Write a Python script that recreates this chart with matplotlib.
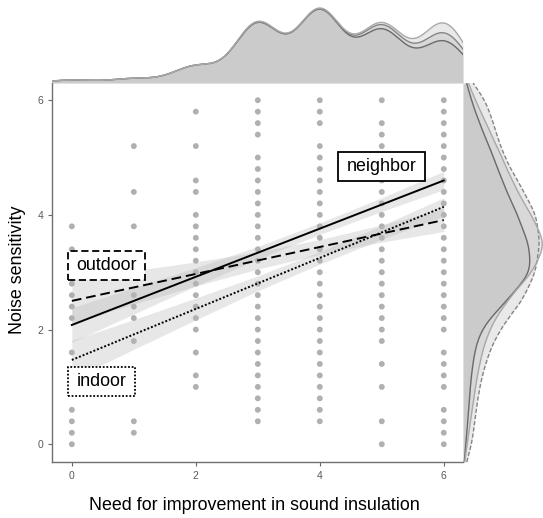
import numpy as np
import matplotlib
matplotlib.use("Agg")
import matplotlib.pyplot as plt
from matplotlib.patches import Rectangle

plt.rcParams['font.family'] = ['Liberation Sans', 'DejaVu Sans']

# ---------------- data ----------------
x_levels = [0, 1, 2, 3, 4, 5, 6]
col0_y = [3.8, 3.4, 3.2, 3.0, 2.8, 2.6, 2.4, 2.2, 1.6, 1.2, 0.6, 0.4, 0.2, 0.0]
col1_y = [5.2, 4.4, 3.8, 3.0, 2.6, 2.4, 2.2, 1.8, 0.4, 0.2]
col2_y = [5.8, 5.2, 4.6, 4.4, 4.0, 3.8, 3.6, 3.4, 3.2, 3.0, 2.8, 2.6, 2.4, 2.2,
          2.0, 1.6, 1.2, 1.0]
col3_y = [6.0, 5.8, 5.6, 5.4, 5.0, 4.8, 4.6, 4.4, 4.2, 4.0, 3.8, 3.6, 3.4, 3.2,
          3.0, 2.8, 2.6, 2.4, 2.2, 2.0, 1.8, 1.6, 1.4, 1.2, 1.0, 0.8, 0.6, 0.4]
col4_y = [6.0, 5.8, 5.6, 5.2, 5.0, 4.8, 4.6, 4.4, 4.2, 4.0, 3.8, 3.6, 3.4, 3.2,
          3.0, 2.8, 2.6, 2.4, 2.2, 2.0, 1.8, 1.6, 1.4, 1.2, 1.0, 0.8, 0.6, 0.4]
col5_y = [6.0, 5.6, 5.4, 5.2, 5.0, 4.8, 4.6, 4.4, 4.2, 4.0, 3.8, 3.6, 3.4, 3.2,
          3.0, 2.8, 2.6, 2.4, 2.2, 2.0, 1.8, 1.4, 1.0, 0.4, 0.0]
col6_y = [6.0, 5.8, 5.6, 5.4, 5.2, 5.0, 4.8, 4.6, 4.4, 4.2, 4.0, 3.8, 3.6, 3.4,
          3.2, 3.0, 2.8, 2.6, 2.4, 2.2, 2.0, 1.6, 1.4, 1.2, 1.0, 0.6, 0.4, 0.2, 0.0]
columns_y = [col0_y, col1_y, col2_y, col3_y, col4_y, col5_y, col6_y]

groups = ['neighbor', 'outdoor', 'indoor']
fit_at_0 = [2.08, 2.50, 1.47]      # fitted value at x = 0
fit_at_6 = [4.60, 3.91, 4.14]      # fitted value at x = 6
ci_halfwidth = {
    'neighbor': [0.30, 0.23, 0.16, 0.11, 0.10, 0.12, 0.16],
    'outdoor':  [0.38, 0.29, 0.21, 0.15, 0.13, 0.15, 0.20],
    'indoor':   [0.34, 0.26, 0.19, 0.13, 0.11, 0.12, 0.16],
}
line_styles = ['-', (0, (5, 2.5)), (0, (1, 1))]
box_styles = ['-', (0, (4, 2)), (0, (1, 1))]
label_pos_x = [5.0, 0.56, 0.48]
label_pos_y = [4.85, 3.11, 1.10]

# marginal density weights (x marginal, at x_levels)
xdens_weights = {
    'neighbor': [3, 4.5, 17, 60, 73, 53, 42],
    'outdoor':  [3, 4.5, 17, 60, 73, 57, 50],
    'indoor':   [3, 4.5, 17, 61, 74, 59, 60],
}
# marginal density weights (y marginal, at y_levels)
y_levels = [0, 0.5, 1, 1.5, 2, 2.5, 3, 3.5, 4, 4.5, 5, 5.5, 6]
ydens_weights = {
    'neighbor': [3, 5, 7, 10, 16, 42, 68, 64, 53, 40, 30, 18, 8],
    'outdoor':  [9, 12, 16, 23, 35, 58, 71, 75, 72, 56, 40, 31, 23],
    'indoor':   [4, 8, 12, 17, 25, 42, 68, 82, 66, 50, 38, 25, 12],
}
marg_line_color = {'neighbor': '#6a6a6a', 'outdoor': '#858585', 'indoor': '#a8a8a8'}
marg_line_style = {'neighbor': '-', 'outdoor': (0, (3, 1.5)), 'indoor': '-'}

xticks = [0, 2, 4, 6]
yticks = [0, 2, 4, 6]
xlabel = 'Need for improvement in sound insulation'
ylabel = 'Noise sensitivity'

# ---------------- figure ----------------
W, H = 543, 518
fig = plt.figure(figsize=(W / 100, H / 100), dpi=100)

def px_axes(left, top, right, bottom):
    return fig.add_axes([left / W, 1 - bottom / H, (right - left) / W, (bottom - top) / H])

ax = px_axes(52, 83, 463, 462)
ax_top = px_axes(52, 0, 463, 83)
ax_right = px_axes(463, 83, 543, 462)

XLIM = (-0.32, 6.31)
YLIM = (-0.31, 6.30)

# scatter
xs = np.concatenate([[xl] * len(c) for xl, c in zip(x_levels, columns_y)])
ys = np.concatenate(columns_y)
ax.scatter(xs, ys, s=18, color='#a3a3a3', alpha=0.85, edgecolors='none', zorder=2)

# fits + bands
xl = np.array(x_levels, dtype=float)
for i, g in enumerate(groups):
    slope = (fit_at_6[i] - fit_at_0[i]) / 6.0
    yfit = fit_at_0[i] + slope * xl
    hw = np.array(ci_halfwidth[g])
    ax.fill_between(xl, yfit - hw, yfit + hw, color='#b8b8b8', alpha=0.33,
                    linewidth=0, zorder=3)
for i, g in enumerate(groups):
    slope = (fit_at_6[i] - fit_at_0[i]) / 6.0
    yfit = fit_at_0[i] + slope * xl
    ax.plot(xl, yfit, color='black', linestyle=line_styles[i], linewidth=1.4, zorder=4)

ax.set_xlim(*XLIM)
ax.set_ylim(*YLIM)
ax.set_xticks(xticks)
ax.set_yticks(yticks)
ax.tick_params(axis='both', length=3.2, width=0.8, color='#666666', labelcolor='#5a5a5a',
               labelsize=7.5, pad=3)
for s in ['top', 'right']:
    ax.spines[s].set_visible(False)
for s in ['left', 'bottom']:
    ax.spines[s].set_color('#707070')
    ax.spines[s].set_linewidth(1.0)

label_texts = []
for i, g in enumerate(groups):
    t = ax.text(label_pos_x[i], label_pos_y[i], g, fontsize=12.9, ha='center', va='center',
                zorder=7)
    label_texts.append(t)

fig.text(254 / W, 1 - 506 / H, xlabel, ha='center', va='center', fontsize=12.9)
fig.text(17 / W, 1 - 270 / H, ylabel, ha='center', va='center', rotation=90, fontsize=12.9)

# top marginal
gx = np.linspace(XLIM[0], XLIM[1], 400)
top_curves = {}
for g in groups:
    w = np.array(xdens_weights[g], dtype=float)
    d = np.zeros_like(gx)
    for c, wi in zip(x_levels, w):
        d += wi * np.exp(-0.5 * ((gx - c) / 0.36) ** 2)
    top_curves[g] = d
tmax = max(d.max() for d in top_curves.values())
for g in groups:
    ax_top.fill_between(gx, 0, top_curves[g], color='#a8a8a8', alpha=0.25, linewidth=0)
for g in groups:
    ax_top.plot(gx, top_curves[g], color=marg_line_color[g], linewidth=1.0)
ax_top.set_xlim(*XLIM)
ax_top.set_ylim(0, tmax * 83 / 75)
ax_top.axis('off')

# right marginal
gy = np.linspace(YLIM[0], YLIM[1], 400)
right_curves = {}
for g in groups:
    w = np.array(ydens_weights[g], dtype=float)
    d = np.zeros_like(gy)
    for c, wi in zip(y_levels, w):
        d += wi * np.exp(-0.5 * ((gy - c) / 0.3) ** 2)
    right_curves[g] = d
rmax = max(d.max() for d in right_curves.values())
for g in groups:
    ax_right.fill_betweenx(gy, 0, right_curves[g], color='#a8a8a8', alpha=0.25, linewidth=0)
for g in groups:
    ax_right.plot(right_curves[g], gy, color=marg_line_color[g], linewidth=1.0,
                  linestyle=marg_line_style[g])
ax_right.set_ylim(*YLIM)
ax_right.set_xlim(0, rmax * 1.01)
ax_right.axis('off')

# boxes around labels (pixel padding measured from the text extents)
fig.canvas.draw()
renderer = fig.canvas.get_renderer()
for i, t in enumerate(label_texts):
    bb = t.get_window_extent(renderer)
    padx, pady = 8.5, 6.0
    r = Rectangle((bb.x0 - padx, bb.y0 - pady), bb.width + 2 * padx, bb.height + 2 * pady,
                  transform=None, facecolor='white', edgecolor='black', linewidth=1.3,
                  linestyle=box_styles[i], zorder=6, clip_on=False)
    ax.add_artist(r)

fig.savefig('out.png', dpi=100)
